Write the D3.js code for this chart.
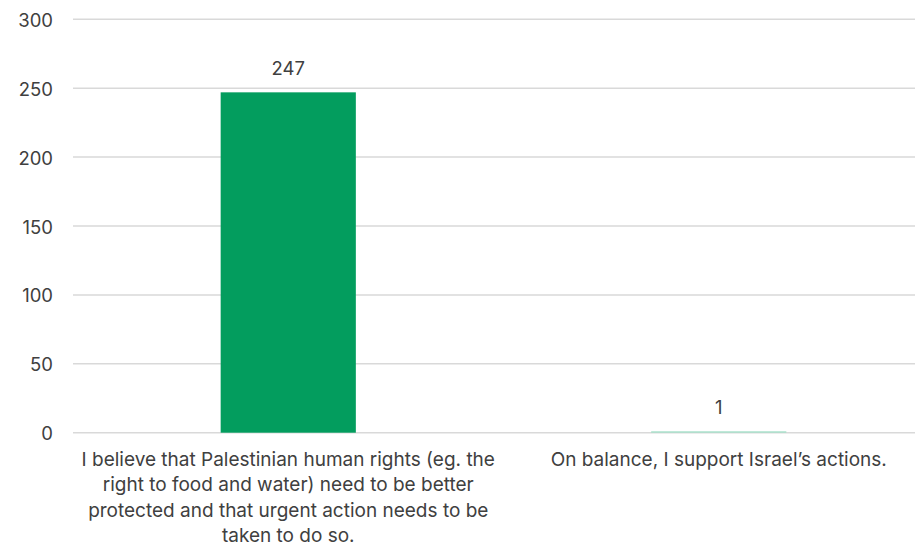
<!DOCTYPE html>
<html>
<head>
<meta charset="utf-8">
<script src="https://cdn.jsdelivr.net/npm/d3@7"></script>
<style>
  html, body { margin: 0; padding: 0; background: #fff; }
  svg { display: block; }
  text { font-family: Inter, "Noto Sans", sans-serif; fill: #404040; }
</style>
</head>
<body>
<svg id="chart" width="915" height="544"></svg>
<script>
// Survey responses
const categories = [
  "I believe that Palestinian human rights (eg. the\nright to food and water) need to be better\nprotected and that urgent action needs to be\ntaken to do so.",
  "On balance, I support Israel\u2019s actions."
];
const values = [247, 1];
const barColors = ["#039d5e", "#a3dfc8"];
const yTicks = [0, 50, 100, 150, 200, 250, 300];

const svg = d3.select("#chart");
const W = 915, H = 544;
const plot = { left: 73, right: 934, top: 19.3, bottom: 432.7 };
const numberSize = 18.5;
const labelSize = 19;

const x = d3.scaleBand()
  .domain(categories)
  .range([plot.left, plot.right])
  .paddingInner(0.686)
  .paddingOuter(0.343);

const y = d3.scaleLinear()
  .domain([0, 300])
  .range([plot.bottom, plot.top]);

// Horizontal gridlines
svg.append("g")
  .selectAll("line")
  .data(yTicks)
  .join("line")
  .attr("x1", plot.left)
  .attr("x2", W)
  .attr("y1", d => y(d))
  .attr("y2", d => y(d))
  .attr("stroke", "#d9d9d9")
  .attr("stroke-width", 1.5);

// Y axis labels
const yAxis = d3.axisLeft(y).tickValues(yTicks).tickSize(0).tickPadding(0);
const yg = svg.append("g")
  .attr("transform", `translate(${53},0)`)
  .call(yAxis);
yg.select(".domain").remove();
yg.selectAll("text")
  .attr("font-size", numberSize)
  .attr("fill", "#404040")
  .attr("dy", null)
  .attr("dominant-baseline", "central")
  .style("font-family", 'Inter, "Noto Sans", sans-serif');

// Bars
svg.append("g")
  .selectAll("rect")
  .data(values)
  .join("rect")
  .attr("x", (d, i) => x(categories[i]))
  .attr("width", x.bandwidth())
  .attr("y", d => y(d))
  .attr("height", d => y(0) - y(d))
  .attr("fill", (d, i) => barColors[i]);

// Value labels
svg.append("g")
  .selectAll("text")
  .data(values)
  .join("text")
  .attr("x", (d, i) => x(categories[i]) + x.bandwidth() / 2)
  .attr("y", d => y(d) - 24)
  .attr("text-anchor", "middle")
  .attr("dominant-baseline", "central")
  .attr("font-size", numberSize)
  .text(d => d);

// Category labels
const cat = svg.append("g")
  .selectAll("text")
  .data(categories)
  .join("text")
  .attr("x", d => x(d) + x.bandwidth() / 2)
  .attr("y", 459)
  .attr("text-anchor", "middle")
  .attr("dominant-baseline", "central")
  .attr("font-size", labelSize);
cat.each(function(d) {
  const t = d3.select(this);
  d.split("\n").forEach((line, i) => {
    t.append("tspan")
      .attr("x", t.attr("x"))
      .attr("dy", i === 0 ? 0 : 25.3)
      .text(line);
  });
});
</script>
</body>
</html>
